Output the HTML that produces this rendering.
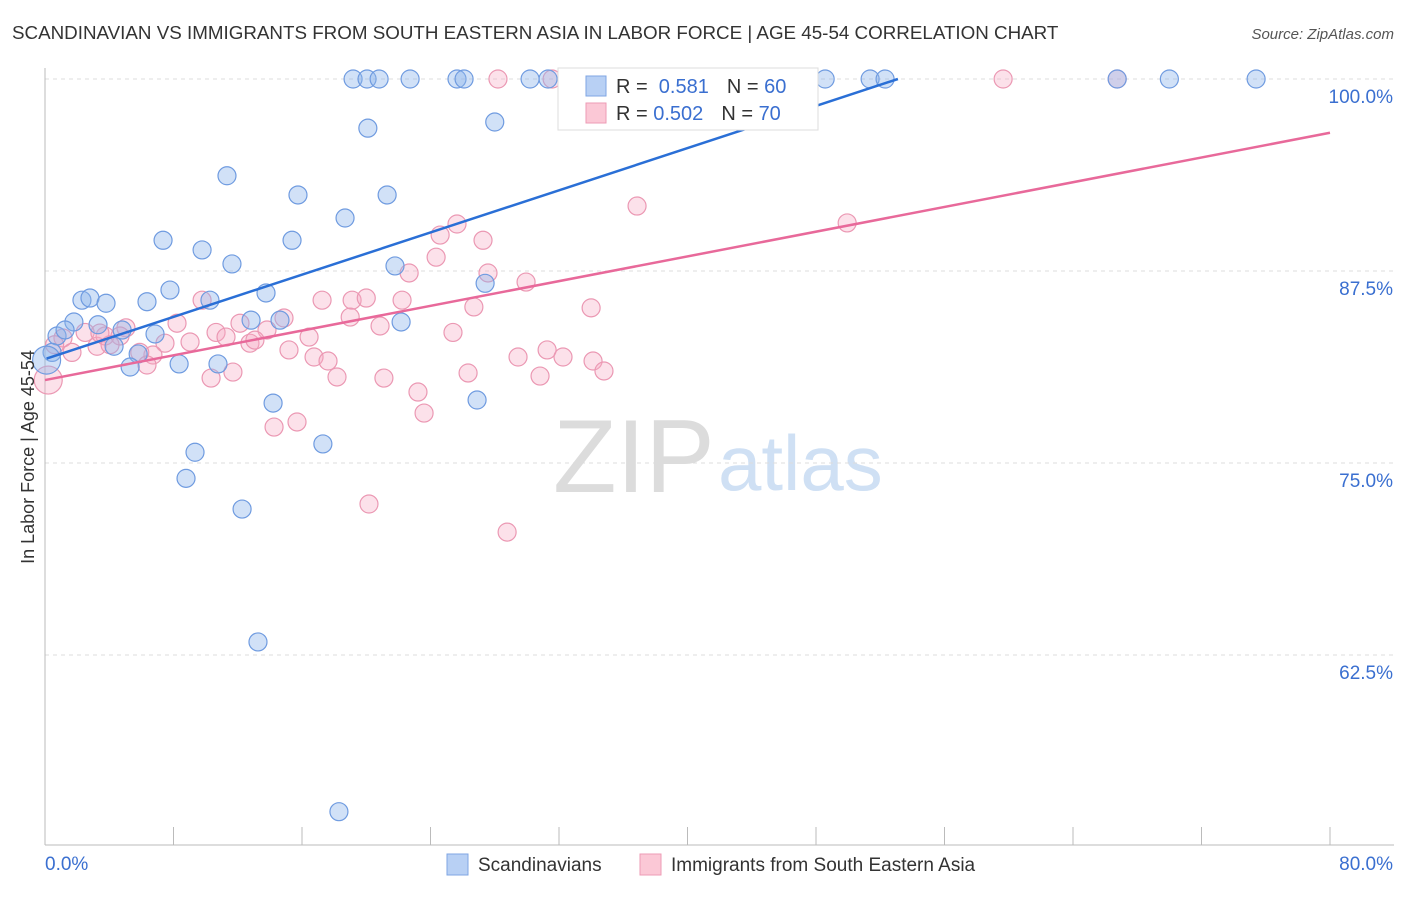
<!DOCTYPE html>
<html><head><meta charset="utf-8"><style>
body{margin:0;background:#fff;font-family:"Liberation Sans",sans-serif;}
svg text{font-family:"Liberation Sans",sans-serif;}
</style></head><body>
<svg id="chart" width="1406" height="892" viewBox="0 0 1406 892" xmlns="http://www.w3.org/2000/svg">
<text x="12" y="39" font-size="18.8" fill="#333">SCANDINAVIAN VS IMMIGRANTS FROM SOUTH EASTERN ASIA IN LABOR FORCE | AGE 45-54 CORRELATION CHART</text>
<text x="1394" y="39" font-size="15" fill="#555" text-anchor="end" font-style="italic">Source: ZipAtlas.com</text>
<g>
<text x="553" y="492" font-size="104" fill="#dcdcdc" font-family="Liberation Serif, serif">ZIP</text>
<text x="718" y="490" font-size="78" fill="#cfe0f4">atlas</text>
</g>
<g id="grid"></g>
<g id="axes"></g>
<g id="marks"></g>
<text transform="translate(34,457) rotate(-90)" font-size="18" fill="#333" text-anchor="middle">In Labor Force | Age 45-54</text>
<g>
<rect x="558" y="68" width="260" height="62" fill="#fff" stroke="#ddd"/>
<rect x="586" y="76" width="20" height="20" fill="#b8d0f4" stroke="#7fa6e3"/>
<rect x="586" y="103" width="20" height="20" fill="#fbc8d6" stroke="#ee9bb5"/>
<text x="616" y="93" font-size="20" fill="#333">R = <tspan fill="#3a6fd0">&#160;0.581</tspan><tspan dx="18">N = </tspan><tspan fill="#3a6fd0">60</tspan></text>
<text x="616" y="120" font-size="20" fill="#333">R = <tspan fill="#3a6fd0">0.502</tspan><tspan dx="18">N = </tspan><tspan fill="#3a6fd0">70</tspan></text>
</g>
<g>
<rect x="447" y="854" width="21" height="21" fill="#b8d0f4" stroke="#7fa6e3"/>
<text x="478" y="871" font-size="19" fill="#333">Scandinavians</text>
<rect x="640" y="854" width="21" height="21" fill="#fbc8d6" stroke="#ee9bb5"/>
<text x="671" y="871" font-size="19" fill="#333">Immigrants from South Eastern Asia</text>
</g>
</svg>
<script>
const yTicks=[100,87.5,75,62.5];
const yTickLabels=["100.0%","87.5%","75.0%","62.5%"];
const xTicks=[0,8,16,24,32,40,48,56,64,72,80];
const blueX=[19.18,20.05,20.8,22.73,25.65,26.09,30.2,31.32,33.31,39.04,48.57,51.37,52.3,66.75,70.0,75.4,20.1,28.0,11.33,15.75,21.3,18.68,7.35,15.38,9.78,11.64,21.79,27.4,7.78,13.76,2.3,2.8,3.8,6.35,10.27,12.83,14.63,22.17,1.8,3.3,4.8,6.85,0.75,1.25,4.3,5.8,0.44,5.3,8.35,10.77,14.2,26.9,9.34,17.3,8.78,12.27,13.26,18.3,0.1];
const blueY=[100,100,100,100,100,100,100,100,100,100,100,100,100,100,100,100,96.8,97.2,93.7,92.45,92.45,90.95,89.5,89.5,88.87,87.96,87.83,86.7,86.26,86.07,85.6,85.74,85.4,85.5,85.6,84.3,84.3,84.18,84.18,84.0,83.66,83.4,83.27,83.66,82.6,82.1,82.2,81.25,81.45,81.45,78.9,79.1,75.7,76.24,74.0,72.0,63.35,52.3,81.7];
const pinkX=[28.2,31.57,59.65,66.75,36.86,49.94,25.65,24.6,27.27,24.35,22.67,27.58,29.95,9.78,17.25,19.12,20.0,22.23,26.7,34.0,14.88,8.22,12.14,13.82,20.86,19.0,25.4,5.04,2.5,1.12,3.24,3.74,9.03,10.65,11.27,12.76,7.47,6.72,5.9,16.44,15.19,1.68,16.75,17.62,29.45,31.26,32.25,34.12,6.35,11.7,10.34,18.18,21.1,26.34,30.82,34.8,23.22,23.6,14.26,15.69,20.17,28.77,0.2,0.6,4.67,4.05,13.07,3.42];
const pinkY=[100,100,100,100,91.73,90.63,90.56,89.84,89.5,88.4,87.37,87.37,86.78,85.6,85.6,85.6,85.74,85.6,85.16,85.1,84.44,84.1,84.1,83.66,83.92,84.5,83.5,83.8,83.5,83.14,82.6,83.27,82.88,83.5,83.2,82.8,82.8,82.03,82.2,83.2,82.36,82.2,81.9,81.64,81.9,82.36,81.9,81.64,81.38,80.92,80.53,80.6,80.53,80.86,80.66,80.99,79.62,78.25,77.34,77.67,72.33,70.5,80.4,82.7,83.27,82.7,83.0,83.46];
const blueLineX=[0.1,53.1], blueLineY=[81.8,100];
const pinkLineX=[0,80], pinkLineY=[80.4,96.5];
const X0=45,X1=1330,Y0=79;
function sx(v){return X0+(v/80)*(X1-X0);}
function sy(v){return Y0+(100-v)*15.36;}
const NS="http://www.w3.org/2000/svg";
function mk(tag,attrs,parent){const e=document.createElementNS(NS,tag);for(const k in attrs)e.setAttribute(k,attrs[k]);parent.appendChild(e);return e;}
const grid=document.getElementById('grid'),axes=document.getElementById('axes'),marks=document.getElementById('marks');
yTicks.forEach((t,i)=>{
 const l=mk('line',{x1:X0,x2:1394,y1:sy(t),y2:sy(t),stroke:'#ddd','stroke-dasharray':'4,4'},grid);
 
 
 const tx=mk('text',{x:1393,y:sy(t)+24,'font-size':19,fill:'#3a6fd0','text-anchor':'end'},axes);
 tx.textContent=yTickLabels[i];
 
 
});
const ax=mk('line',{x1:X0,x2:1394,y1:845,y2:845,stroke:'#bbb'},axes);


const ay=mk('line',{x1:X0,x2:X0,y1:68,y2:845,stroke:'#bbb'},axes);


xTicks.forEach(t=>{
 const l=mk('line',{x1:sx(t),x2:sx(t),y1:827,y2:845,stroke:'#bbb'},axes);
 
 
});
const xl0=mk('text',{x:45,y:870,'font-size':19,fill:'#3a6fd0'},axes);xl0.textContent='0.0%';


const xl1=mk('text',{x:1393,y:870,'font-size':19,fill:'#3a6fd0','text-anchor':'end'},axes);xl1.textContent='80.0%';


pinkX.forEach((v,i)=>{
 const r=(v<0.5)?14:9;
 const c=mk('circle',{cx:sx(v),cy:sy(pinkY[i]),r:r,fill:'rgba(246,170,195,0.35)',stroke:'#eb98b3','stroke-width':1.2},marks);
 
 
});
blueX.forEach((v,i)=>{
 const r=(v<0.3)?14:9;
 const c=mk('circle',{cx:sx(v),cy:sy(blueY[i]),r:r,fill:'rgba(140,180,235,0.4)',stroke:'#6f9be0','stroke-width':1.2},marks);
 
 
});
const bl=mk('line',{x1:sx(blueLineX[0]),y1:sy(blueLineY[0]),x2:sx(blueLineX[1]),y2:sy(blueLineY[1]),stroke:'#2a6fd6','stroke-width':2.5},marks);


const pl=mk('line',{x1:sx(pinkLineX[0]),y1:sy(pinkLineY[0]),x2:sx(pinkLineX[1]),y2:sy(pinkLineY[1]),stroke:'#e8699a','stroke-width':2.5},marks);


</script>
</body></html>
